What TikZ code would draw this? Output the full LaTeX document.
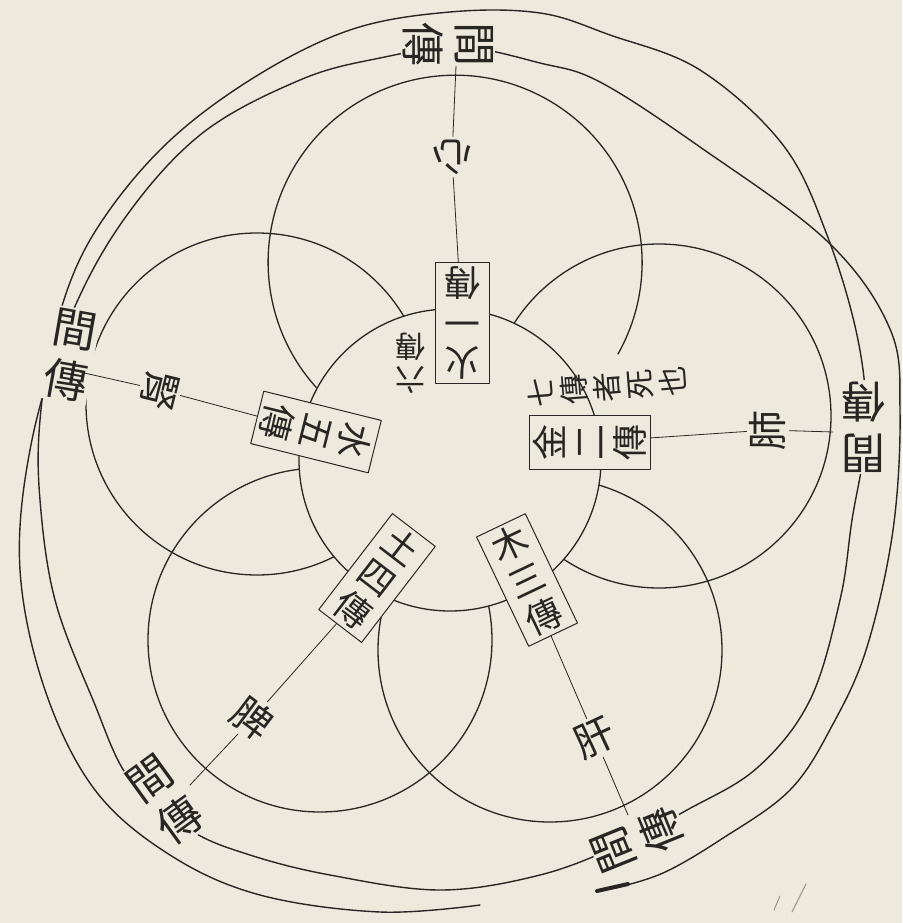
\documentclass[tikz,border=0pt]{standalone}
\usepackage{fontspec}
\newfontfamily\cjk{Noto Sans CJK TC}
\definecolor{paper}{RGB}{237,234,221}
\definecolor{ink}{RGB}{40,38,34}
\definecolor{faint}{RGB}{150,146,138}
\begin{document}
\begin{tikzpicture}[x=1pt,y=-1pt,line cap=round,line join=round,
  curve/.style={draw=ink,line width=1.3pt},
  ringline/.style={draw=ink,line width=1.4pt},
  radial/.style={draw=ink,line width=0.8pt},
  box/.style={draw=ink,line width=1pt,fill=paper,text=ink,font=\cjk\fontsize{36}{40}\selectfont,align=center,inner xsep=9pt,inner ysep=4pt},
  organ/.style={fill=paper,text=ink,font=\cjk\fontsize{40}{40}\selectfont,inner sep=3pt},
  jian/.style={fill=paper,text=ink,font=\cjk\fontsize{44}{52}\selectfont,align=center,inner sep=2pt},
  note/.style={text=ink,font=\cjk\fontsize{30}{33}\selectfont,align=center,inner sep=1pt}]
\fill[paper] (0,0) rectangle (902,923);
\useasboundingbox (0,0) rectangle (902,923);

% outer rings
\draw[ringline] plot[smooth cycle,tension=0.6] coordinates {(450,12) (540,13) (610,35) (700,70) (783,145) (827,235) (858,340) (866,430) (852,520) (840,600) (810,700) (757,768) (687,810) (620,845) (540,875) (440,890) (330,875) (250,855) (190,830) (130,780) (93,700) (55,600) (40,500) (40,420) (55,330) (90,240) (160,150) (250,80) (350,30)};
\draw[ringline] plot[smooth,tension=0.6] coordinates {(615,888) (663,873) (720,840) (790,790) (833,724) (867,647) (893,530) (900,412) (890,329) (827,241) (700,147) (600,82) (540,63) (460,47) (380,58) (300,80) (200,135) (120,225) (65,330) (30,450) (20,570) (45,690) (95,790) (170,855) (260,895) (380,912) (480,905)};
\draw[line width=4pt,draw=ink] (597,891) -- (628,884);
\draw[faint,line width=1pt] (806,884) -- (792,912);
\draw[faint,line width=1pt] (780,896) -- (774,910);

% petals, drawn outside the centre circle only
\begin{scope}[even odd rule]
\clip (0,0) rectangle (902,923) (450,460) circle[radius=151pt];
\draw[curve] (618,354) arc[start angle=29.4,end angle=-222,radius=187];
\draw[curve] (659,416) circle[radius=172pt];
\draw[curve] (550,650) circle[radius=172pt];
\draw[curve] (320,640) circle[radius=172pt];
\draw[curve] (257,404) circle[radius=171pt];
\end{scope}
\draw[curve] (450,460) circle[radius=151pt];

% boxes
\node[box,rotate=180] (b1) at (462,323) {火\\一\\傳};
\node[box,rotate=90] (b2) at (590,442) {金\\二\\傳};
\node[box,rotate=25.5] (b3) at (527,580) {木\\三\\傳};
\node[box,rotate=-37.5] (b4) at (377,578) {土\\四\\傳};
\node[box,rotate=-104] (b5) at (316,432) {水\\五\\傳};

% organs
\node[organ,rotate=180] (xin) at (452,157) {心};
\node[organ,rotate=90] (fei) at (768,430) {肺};
\node[organ,rotate=25] (gan) at (595,738) {肝};
\node[organ,rotate=-37] (pi) at (253,718) {脾};
\node[organ,rotate=-104] (shen) at (160,390) {腎};

% jian chuan
\node[jian,rotate=-90] (j1) at (448,45) {間\\傳};
\node[jian,rotate=-10] (j2) at (70,355) {間\\傳};
\node[jian,rotate=180] (j3) at (863,427) {間\\傳};
\node[jian,rotate=36] (j4) at (165,800) {間\\傳};
\node[jian,rotate=112] (j5) at (638,840) {間\\傳};

% notes
\node[note,rotate=180] (liu) at (410,363) {六\\傳};
\node[note,rotate=94.5] (qi) at (607,387) {七\\傳\\者\\死\\也};

% radial lines
\coordinate (e1) at (456,66);
\coordinate (e2) at (833,432);
\coordinate (e3) at (628,815);
\coordinate (e4) at (190,785);
\coordinate (e5) at (62,368);
\draw[radial] (b1) -- (xin) -- (e1);
\draw[radial] (b2) -- (fei) -- (e2);
\draw[radial] (b3) -- (gan) -- (e3);
\draw[radial] (b4) -- (pi) -- (e4);
\draw[radial] (b5) -- (shen) -- (e5);
\end{tikzpicture}
\end{document}
